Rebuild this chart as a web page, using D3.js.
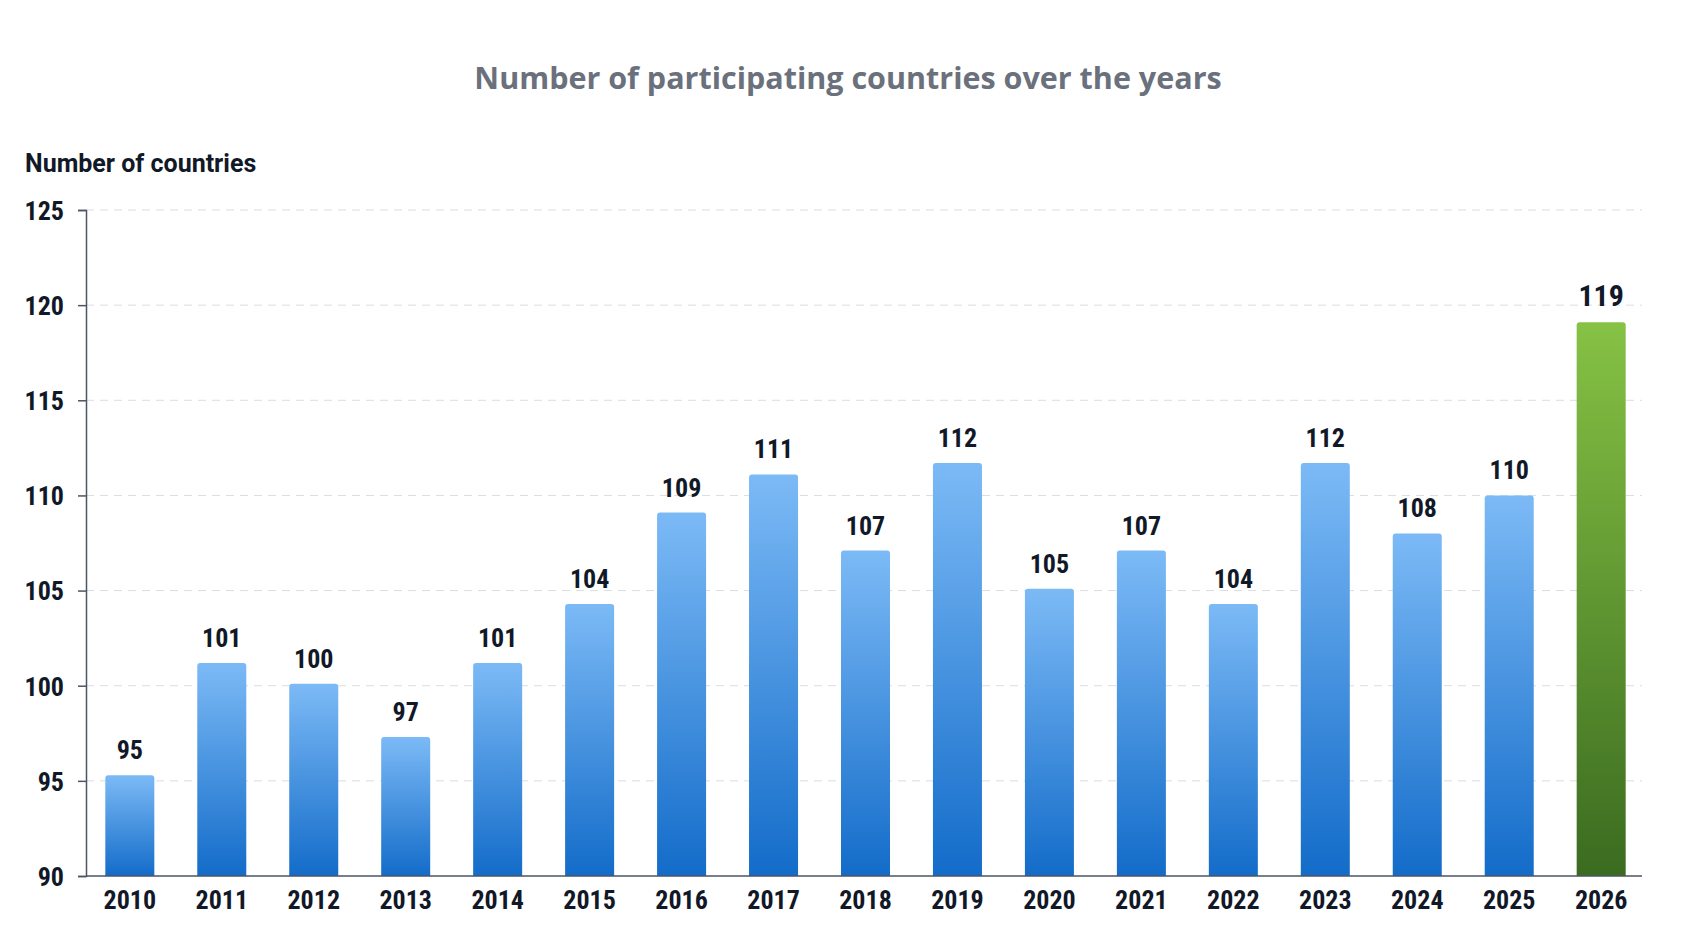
<!DOCTYPE html>
<html>
<head>
<meta charset="utf-8">
<script src="https://cdn.jsdelivr.net/npm/d3@7"></script>
<style>
  body { margin: 0; background: #fff; }
</style>
</head>
<body>
<svg id="chart" width="1681" height="936"></svg>
<script>
const years = ["2010", "2011", "2012", "2013", "2014", "2015", "2016", "2017", "2018",
               "2019", "2020", "2021", "2022", "2023", "2024", "2025", "2026"];
const countries = [95.3, 101.2, 100.1, 97.3, 101.2, 104.3, 109.1, 111.1, 107.1,
                   111.7, 105.1, 107.1, 104.3, 111.7, 108.0, 110.0, 119.1];
const labels = ["95", "101", "100", "97", "101", "104", "109", "111", "107",
                "112", "105", "107", "104", "112", "108", "110", "119"];
const yTicks = [90, 95, 100, 105, 110, 115, 120, 125];

const svg = d3.select("#chart");
const margin = { left: 86, right: 36, top: 210, bottom: 60 };
const W = 1681, H = 936;
const labelFont = "'Liberation Sans Narrow', 'Roboto Condensed', Roboto, sans-serif";

const x = d3.scaleBand()
    .domain(years)
    .range([margin.left, W - margin.right])
    .paddingInner(0.467)
    .paddingOuter(0.21);

const y = d3.scaleLinear()
    .domain([90, 125])
    .range([H - margin.bottom, margin.top]);

// gradients
const defs = svg.append("defs");
function grad(id, top, bottom) {
    let g = defs.append("linearGradient").attr("id", id)
        .attr("x1", 0).attr("y1", 0).attr("x2", 0).attr("y2", 1);
    g.append("stop").attr("offset", "0%").attr("stop-color", top);
    g.append("stop").attr("offset", "100%").attr("stop-color", bottom);
}
grad("blueGrad", "#7cbaf6", "#136cc9");
grad("greenGrad", "#86c244", "#3b6b20");

// title
svg.append("text")
    .attr("x", 848).attr("y", 89)
    .attr("text-anchor", "middle")
    .style("font-family", "'Open Sans', sans-serif")
    .style("font-weight", 700)
    .style("font-size", "30.5px")
    .style("fill", "#6b717c")
    .text("Number of participating countries over the years");

svg.append("text")
    .attr("x", 25).attr("y", 172)
    .style("font-family", "Roboto, sans-serif")
    .style("font-weight", 700)
    .style("font-size", "25px")
    .style("fill", "#111827")
    .text("Number of countries");

// grid
svg.append("g")
    .selectAll("line")
    .data(yTicks.slice(1))
    .join("line")
    .attr("x1", margin.left).attr("x2", W - margin.right - 3)
    .attr("y1", d => y(d)).attr("y2", d => y(d))
    .attr("stroke", "#dadde2")
    .attr("stroke-dasharray", "8,6");

// bars
svg.append("g")
    .selectAll("path")
    .data(years)
    .join("path")
    .attr("d", (d, i) => {
        let x0 = x(d), w = x.bandwidth(), top = y(countries[i]), bot = y(90), r = 3;
        return `M${x0},${bot} V${top + r} Q${x0},${top} ${x0 + r},${top} H${x0 + w - r} Q${x0 + w},${top} ${x0 + w},${top + r} V${bot} Z`;
    })
    .attr("fill", (d, i) => i === years.length - 1 ? "url(#greenGrad)" : "url(#blueGrad)");

// value labels
svg.append("g")
    .selectAll("text")
    .data(years)
    .join("text")
    .attr("x", d => x(d) + x.bandwidth() / 2)
    .attr("y", (d, i) => y(countries[i]) - 16)
    .attr("text-anchor", "middle")
    .style("font-family", labelFont)
    .style("font-weight", 700)
    .style("font-size", (d, i) => i === years.length - 1 ? "30px" : "26px")
    .style("fill", "#111827")
    .text((d, i) => labels[i]);

// axes
const yAxis = svg.append("g")
    .attr("transform", `translate(${margin.left},0)`)
    .call(d3.axisLeft(y).tickValues(yTicks).tickSize(8).tickPadding(14));
const xAxis = svg.append("g")
    .attr("transform", `translate(0,${y(90)})`)
    .call(d3.axisBottom(x).tickSize(0).tickPadding(15));
xAxis.call(g => g.select(".domain").attr("d", `M${margin.left},0H${W - margin.right - 3}`));

[yAxis, xAxis].forEach(a => {
    a.select(".domain").attr("stroke", "#4b5563").attr("stroke-width", 1.5);
    a.selectAll(".tick line").attr("stroke", "#4b5563").attr("stroke-width", 1.5);
    a.selectAll("text")
        .style("font-family", labelFont)
        .style("font-weight", 700)
        .style("font-size", "26px")
        .style("fill", "#111827");
});
yAxis.selectAll(".tick text").attr("dy", "0.36em");
</script>
</body>
</html>
